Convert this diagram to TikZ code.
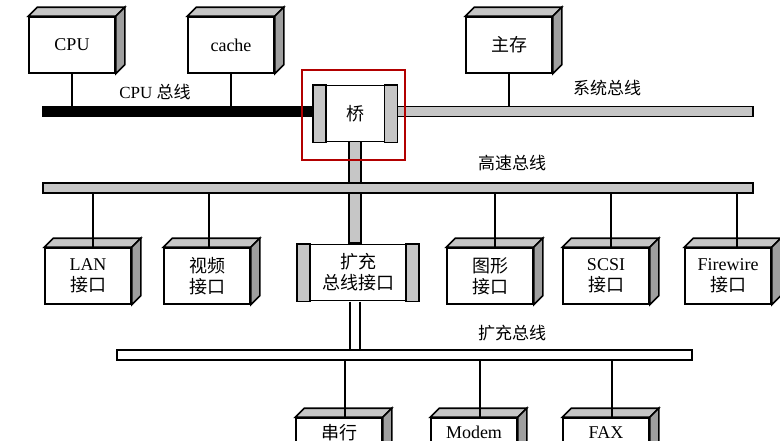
\documentclass[tikz,border=0pt]{standalone}
\usepackage{fontspec}
\setmainfont{Liberation Serif}
\newfontfamily\cjk{Noto Sans CJK SC}
\begin{document}
\tikzset{
  unit/.style={draw,line width=1.6,fill=white,minimum width=86,minimum height=56,
    inner sep=1pt,align=center,font=\fontsize{18}{21}\selectfont},
  bridge/.style={unit},
  bus/.style={draw,line width=1.6,inner sep=0pt,minimum height=10},
  tap/.style={draw,line width=1.4},
  label/.style={font=\fontsize{17}{19}\selectfont}
}
\newcommand{\unitbox}[4]{%
  \node[unit] (#1) at (#2,#3) {#4};
  \filldraw[line width=1.6,fill=gray!45] (#1.north west) -- ++(9,-9)
    -- ([shift={(9,-9)}]#1.north east) -- (#1.north east) -- cycle;
  \filldraw[line width=1.6,fill=gray!75] (#1.north east) -- ++(9,-9)
    -- ([shift={(9,-9)}]#1.south east) -- (#1.south east) -- cycle;}
\newcommand{\bridgebox}[5]{%
  \node[bridge,minimum width=#4] (#1) at (#2,#3) {#5};
  \filldraw[line width=1.6,fill=gray!45] (#1.north west) rectangle ([xshift=13]#1.south west);
  \filldraw[line width=1.6,fill=gray!45] (#1.north east) rectangle ([xshift=-13]#1.south east);}
\begin{tikzpicture}[x=1pt,y=-1pt,line width=1.6]
  \useasboundingbox[fill=white] (0,0) rectangle (780,440);

  % buses
  \node[bus,fill=black,minimum width=270] (cpubus) at (178,111.5) {};
  \node[bus,fill=gray!45,minimum width=357] (sysbus) at (574.5,111.5) {};
  \node[bus,fill=gray!45,minimum width=710] (hsbus) at (398,188) {};
  \node[bus,fill=white,minimum width=575] (exbus) at (404.5,355) {};

  % bridge and stub
  \filldraw[fill=gray!45] (349,140) rectangle (361,183);
  \bridgebox{qiao}{355}{113.5}{83}{\cjk 桥}
  \draw[red!70!black,line width=1.8] (302,70) rectangle (405,160);

  % top units
  \unitbox{cpu}{72}{45}{CPU}
  \unitbox{cache}{231}{45}{cache}
  \unitbox{mem}{509}{45}{\cjk 主存}
  \draw[tap] (cpu.south) -- (cpu.south |- cpubus.north);
  \draw[tap] (cache.south) -- (cache.south |- cpubus.north);
  \draw[tap] (mem.south) -- (mem.south |- sysbus.north);

  % middle units
  \unitbox{lan}{88}{276}{LAN\\\cjk 接口}
  \unitbox{video}{207}{276}{\cjk 视频\\\cjk 接口}
  \unitbox{graph}{490}{276}{\cjk 图形\\\cjk 接口}
  \unitbox{scsi}{606}{276}{SCSI\\\cjk 接口}
  \unitbox{fire}{728}{276}{Firewire\\\cjk 接口}
  \filldraw[fill=gray!45] (349,193) rectangle (361,243);
  \bridgebox{exif}{358}{272.5}{120}{\cjk 扩充\\\cjk 总线接口}
  \foreach \n/\x in {lan/93,video/209,graph/495,scsi/611,fire/737}
    \draw[tap] (\x,193) -- (\x,248);
  \draw[tap] (350,301.5) -- (350,350) (360,301.5) -- (360,350);

  % bottom units
  \unitbox{serial}{339}{446}{\cjk 串行\\\strut}
  \unitbox{modem}{474}{446}{Modem\\\strut}
  \unitbox{fax}{606}{446}{FAX\\\strut}
  \draw[tap] (345,418) -- (345,360);
  \draw[tap] (480,418) -- (480,360);
  \draw[tap] (612,418) -- (612,360);

  % bus labels
  \node[label] at (155,92) {CPU \cjk 总线};
  \node[label] at (607,88) {\cjk 系统总线};
  \node[label] at (512,163) {\cjk 高速总线};
  \node[label] at (512,333) {\cjk 扩充总线};
\end{tikzpicture}
\end{document}
